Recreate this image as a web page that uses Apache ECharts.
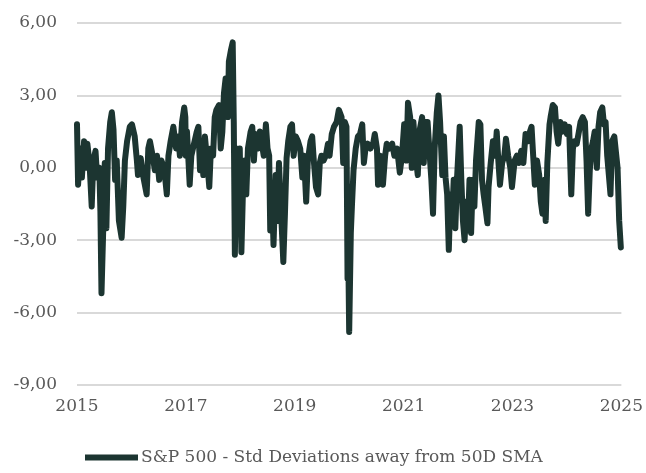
<!DOCTYPE html>
<html>
<head>
<meta charset="utf-8">
<script src="https://cdn.jsdelivr.net/npm/echarts@6/dist/echarts.min.js"></script>
<style>
  html, body { margin: 0; padding: 0; background: #fff; }
  #main { width: 646px; height: 473px; }
</style>
</head>
<body>
<div id="main"></div>
<script>
var dom = document.getElementById("main");
var myChart = echarts.init(dom, null, { renderer: "canvas" });

// x positions as decimal years
var years = [
  2015.00, 2015.02, 2015.06, 2015.09, 2015.13, 2015.17, 2015.19, 2015.23, 2015.27, 2015.30,
  2015.34, 2015.37, 2015.41, 2015.43, 2015.45, 2015.48, 2015.51, 2015.54, 2015.57, 2015.61,
  2015.64, 2015.67, 2015.70, 2015.73, 2015.77, 2015.82, 2015.85, 2015.88, 2015.92, 2015.97,
  2016.01, 2016.06, 2016.10, 2016.12, 2016.17, 2016.22, 2016.28, 2016.31, 2016.34, 2016.39,
  2016.43, 2016.47, 2016.51, 2016.55, 2016.60, 2016.65, 2016.68, 2016.72, 2016.77, 2016.82,
  2016.86, 2016.89, 2016.93, 2016.97, 2016.99, 2017.00, 2017.02, 2017.07, 2017.10, 2017.15,
  2017.20, 2017.23, 2017.26, 2017.29, 2017.32, 2017.35, 2017.39, 2017.43, 2017.46, 2017.50,
  2017.53, 2017.56, 2017.61, 2017.64, 2017.67, 2017.70, 2017.73, 2017.77, 2017.79, 2017.83,
  2017.86, 2017.88, 2017.90, 2017.93, 2017.96, 2017.99, 2018.02, 2018.05, 2018.08, 2018.11,
  2018.14, 2018.19, 2018.22, 2018.25, 2018.28, 2018.33, 2018.36, 2018.39, 2018.43, 2018.47,
  2018.50, 2018.53, 2018.55, 2018.58, 2018.61, 2018.65, 2018.68, 2018.71, 2018.74, 2018.79,
  2018.82, 2018.85, 2018.88, 2018.92, 2018.95, 2018.98, 2019.02, 2019.06, 2019.10, 2019.14,
  2019.17, 2019.21, 2019.24, 2019.29, 2019.32, 2019.35, 2019.39, 2019.43, 2019.46, 2019.49,
  2019.53, 2019.57, 2019.61, 2019.64, 2019.68, 2019.72, 2019.77, 2019.81, 2019.86, 2019.89,
  2019.92, 2019.95, 2019.97, 2019.98, 2020.00, 2020.03, 2020.05, 2020.08, 2020.12, 2020.16,
  2020.20, 2020.24, 2020.27, 2020.30, 2020.34, 2020.39, 2020.44, 2020.47, 2020.51, 2020.53,
  2020.57, 2020.62, 2020.66, 2020.69, 2020.74, 2020.79, 2020.83, 2020.88, 2020.93, 2020.97,
  2021.01, 2021.03, 2021.05, 2021.08, 2021.12, 2021.15, 2021.18, 2021.22, 2021.26, 2021.29,
  2021.34, 2021.37, 2021.40, 2021.44, 2021.48, 2021.51, 2021.54, 2021.57, 2021.61, 2021.64,
  2021.67, 2021.71, 2021.74, 2021.77, 2021.80, 2021.83, 2021.86, 2021.89, 2021.92, 2021.95,
  2021.98, 2022.03, 2022.06, 2022.09, 2022.12, 2022.15, 2022.18, 2022.21, 2022.24, 2022.27,
  2022.30, 2022.33, 2022.38, 2022.41, 2022.44, 2022.47, 2022.50, 2022.54, 2022.56, 2022.60,
  2022.64, 2022.68, 2022.71, 2022.74, 2022.77, 2022.81, 2022.85, 2022.88, 2022.92, 2022.96,
  2022.99, 2023.04, 2023.08, 2023.12, 2023.16, 2023.20, 2023.24, 2023.28, 2023.32, 2023.35,
  2023.38, 2023.41, 2023.45, 2023.49, 2023.52, 2023.55, 2023.59, 2023.61, 2023.64, 2023.68,
  2023.70, 2023.74, 2023.78, 2023.81, 2023.84, 2023.88, 2023.92, 2023.96, 2024.00, 2024.04,
  2024.08, 2024.11, 2024.14, 2024.18, 2024.22, 2024.25, 2024.29, 2024.33, 2024.36, 2024.39,
  2024.42, 2024.45, 2024.48, 2024.51, 2024.55, 2024.58, 2024.61, 2024.65, 2024.68, 2024.71,
  2024.74, 2024.77, 2024.80, 2024.83, 2024.87, 2024.90, 2024.93, 2024.96, 2024.99
];

// std deviations away from the 50D SMA
var stdDev = [
  1.8, -0.7, 0.8, -0.4, 1.1, 0.0, 1.0, 0.2, -1.6, 0.3,
  0.7, -0.4, 0.0, -1.8, -5.2, -2.7, 0.2, -2.5, 0.8, 1.9,
  2.3, 1.6, -0.5, 0.3, -2.2, -2.9, -1.6, 0.3, 1.1, 1.7,
  1.8, 1.3, 0.3, -0.3, 0.4, -0.4, -1.1, 0.8, 1.1, 0.5,
  -0.1, 0.5, -0.5, 0.3, 0.0, -1.1, 0.5, 1.1, 1.7, 0.8,
  1.3, 0.5, 1.9, 2.5, 2.1, 0.5, 1.5, -0.7, 0.5, 1.0,
  1.5, 1.7, -0.1, 1.1, -0.3, 1.3, 0.3, -0.8, 0.8, 0.5,
  2.1, 2.4, 2.6, 0.8, 1.5, 3.1, 3.7, 2.1, 4.4, 4.9,
  5.2, 1.9, -3.6, 0.8, -2.2, 0.8, -3.5, -0.8, 0.3, -1.1,
  0.8, 1.5, 1.7, 0.3, 1.4, 0.8, 1.5, 1.1, 0.5, 1.8,
  0.8, 0.5, -2.6, -0.8, -3.2, -0.3, -2.2, 0.2, -1.4, -3.9,
  -1.9, 0.4, 1.1, 1.7, 1.8, 0.5, 1.3, 1.1, 0.8, -0.4,
  0.5, -1.4, 0.3, 1.1, 1.3, 0.3, -0.8, -1.1, 0.2, 0.5,
  0.3, 0.5, 1.0, 0.5, 1.4, 1.7, 1.9, 2.4, 2.1, 0.2,
  1.9, 1.7, -4.6, -2.8, -6.8, -2.7, -1.6, -0.1, 0.8, 1.3,
  1.4, 1.8, 0.2, 0.8, 1.0, 0.8, 1.0, 1.4, 0.8, -0.7,
  0.5, -0.7, 0.5, 1.0, 0.8, 1.0, 0.5, 0.8, -0.2, 0.5,
  1.8, 1.5, 0.3, 2.7, 2.1, 0.0, 1.9, 0.5, -0.3, 1.5,
  2.1, 0.2, 1.9, 1.9, 0.5, -0.5, -1.9, 0.8, 2.3, 3.0,
  1.9, -0.3, 1.3, -0.4, -1.1, -3.4, -1.1, -2.2, -0.5, -2.5,
  -0.5, 1.7, -0.5, -2.2, -3.0, -1.4, -2.6, -0.5, -2.7, -0.5,
  -1.6, 0.3, 1.9, 1.8, -0.5, -1.1, -1.6, -2.3, -0.8, 0.2,
  1.1, 0.5, 1.5, 0.3, -0.7, 0.2, 0.5, 1.2, 0.5, 0.0,
  -0.8, 0.3, 0.5, 0.2, 0.7, 0.2, 1.4, 1.1, 1.5, 1.7,
  0.5, -0.7, 0.3, -0.3, -1.4, -1.9, -0.5, -2.2, 0.2, 1.8,
  2.1, 2.6, 2.5, 1.5, 1.0, 1.9, 1.5, 1.8, 1.4, 1.7,
  -1.1, 0.8, 1.1, 1.0, 1.5, 1.9, 2.1, 1.9, 0.3, -1.9,
  -0.1, 0.8, 1.1, 1.5, 0.0, 1.7, 2.3, 2.5, 1.8, 1.9,
  0.5, -0.3, -1.1, 1.1, 1.3, 1.3, 0.0, -2.2, -3.3
];

var yearLabels = [2015, 2017, 2019, 2021, 2023, 2025];
var seriesName = "S&P 500 - Std Deviations away from 50D SMA";

var lineColor = "#1c3531";
var textColor = "#595959";
var fontFamily = "DejaVu Serif";

var points = [];
for (var i = 0; i < years.length; i++) {
  points.push([years[i], stdDev[i]]);
}

var option = {
  animation: false,
  grid: { left: 77, right: 24, top: 23, bottom: 88 },
  legend: {
    bottom: 2,
    left: 80,
    itemWidth: 53,
    itemHeight: 6,
    textStyle: { color: textColor, fontFamily: fontFamily, fontSize: 17, padding: [0, 0, 0, -2] },
    data: [{ name: seriesName, icon: "rect", itemStyle: { color: lineColor } }],
  },
  xAxis: {
    type: "value",
    min: 2015,
    max: 2025,
    axisLine: { show: false },
    axisTick: { show: false },
    splitLine: { show: false },
    axisLabel: {
      customValues: yearLabels,
      color: textColor,
      fontFamily: fontFamily,
      fontSize: 17,
      margin: 13,
      formatter: function (v) { return String(v); },
    },
  },
  yAxis: {
    type: "value",
    min: -9,
    max: 6,
    interval: 3,
    axisLine: { show: false },
    axisTick: { show: false },
    splitLine: { lineStyle: { color: "#d9d9d9", width: 2 } },
    axisLabel: {
      color: textColor,
      fontFamily: fontFamily,
      fontSize: 17,
      margin: 20,
      formatter: function (v) { return v.toFixed(2).replace(".", ","); },
    },
  },
  series: [
    {
      name: seriesName,
      type: "line",
      data: points,
      showSymbol: false,
      symbol: "none",
      lineStyle: { color: lineColor, width: 6, join: "round", cap: "round" },
      itemStyle: { color: lineColor },
      z: 3,
    },
  ],
};

myChart.setOption(option);
</script>
</body>
</html>
